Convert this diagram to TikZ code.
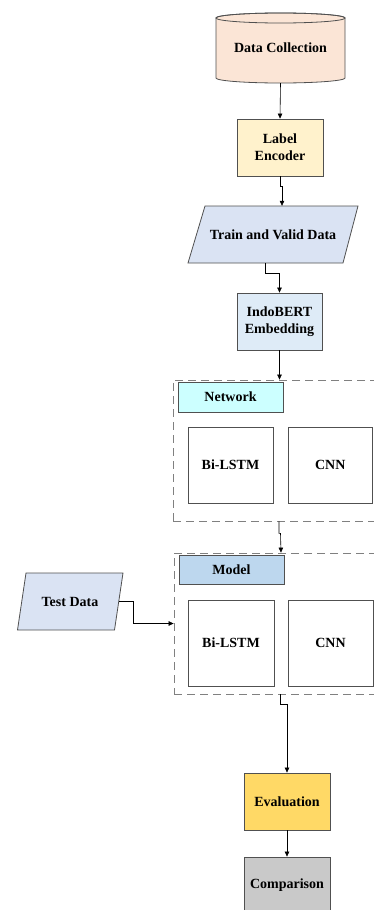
\documentclass[tikz,border=0pt]{standalone}
\usepackage{fontspec}
\setmainfont{Liberation Serif}
\usetikzlibrary{arrows.meta}

\definecolor{peach}{HTML}{FBE5D6}
\definecolor{cream}{HTML}{FFF2CC}
\definecolor{lavender}{HTML}{DAE3F3}
\definecolor{paleblue}{HTML}{DEEBF7}
\definecolor{palecyan}{HTML}{CCFFFF}
\definecolor{skyblue}{HTML}{BDD7EE}
\definecolor{gold}{HTML}{FFD966}
\definecolor{silver}{HTML}{C9C9C9}
\definecolor{edge}{HTML}{505050}
\definecolor{dashgray}{HTML}{808080}

\tikzset{
  box/.style={draw=edge, line width=0.8pt, inner sep=0pt, align=center},
  txt/.style={inner sep=0pt, align=center},
  grp/.style={draw=dashgray, line width=0.8pt, dash pattern=on 8pt off 5pt, inner sep=0pt},
  link/.style={draw=black, line width=0.6pt, -{Triangle[length=5pt,width=4.5pt]}},
  shapeline/.style={draw=edge, line width=0.8pt},
}

\begin{document}
\begin{tikzpicture}[x=1pt, y=-1pt, font=\fontsize{14}{17}\selectfont\bfseries]
\useasboundingbox (0,0) rectangle (374,910);
\clip (0,0) rectangle (374,910);

% data store drawn as a cylinder
\path[shapeline, fill=peach] (216,18) -- (216,78)
  arc[start angle=180, end angle=360, x radius=64.5pt, y radius=5pt]
  -- (345,18)
  arc[start angle=0, end angle=180, x radius=64.5pt, y radius=5pt] -- cycle;
\draw[shapeline] (280.5,18) ellipse [x radius=64.5pt, y radius=5pt];
\node[txt, minimum width=129pt, minimum height=70pt] (dc) at (280.5,48) {Data Collection};

% preprocessing steps
\node[box, fill=cream, minimum width=86pt, minimum height=57pt] (le) at (280,147.5) {Label\\Encoder};

\path[shapeline, fill=lavender] (205,206) -- (358,206) -- (343,263) -- (188,263) -- cycle;
\node[txt, minimum width=150pt, minimum height=57pt] (tvd) at (273,234.5) {Train and Valid Data};

\node[box, fill=paleblue, minimum width=85pt, minimum height=57pt] (ie) at (279.5,321.5) {IndoBERT\\Embedding};

% network group
\node[grp, minimum width=227pt, minimum height=141pt] (g1) at (286.5,450.5) {};
\node[box, fill=palecyan, minimum width=105pt, minimum height=30pt] (nh) at (230.5,397) {Network};
\node[box, minimum width=85pt, minimum height=76pt] (b1) at (230.5,465) {Bi-LSTM};
\node[box, minimum width=84.5pt, minimum height=76pt] (c1) at (330.25,465) {CNN};

% model group
\node[grp, minimum width=226pt, minimum height=141pt] (g2) at (287,623.5) {};
\node[box, fill=skyblue, minimum width=105pt, minimum height=29pt] (mh) at (231.5,569.5) {Model};
\node[box, minimum width=86pt, minimum height=86pt] (b2) at (231,643) {Bi-LSTM};
\node[box, minimum width=85pt, minimum height=86pt] (c2) at (330.5,643) {CNN};

% test data input
\path[shapeline, fill=lavender] (26,573) -- (123,573) -- (114.5,630) -- (17.5,630) -- cycle;
\node[txt, minimum width=97pt, minimum height=57pt] (td) at (70,601.5) {Test Data};

% results
\node[box, fill=gold, minimum width=86pt, minimum height=57pt] (ev) at (287,801.5) {Evaluation};
\node[box, fill=silver, minimum width=86pt, minimum height=57pt] (cmp) at (287,885.5) {Comparison};

% connectors
\draw[link] (dc.south) -- (le.north);
\draw[link] (le.south) -- ++(0,10) -- ++(2,0) -- ([xshift=9pt]tvd.north);
\draw[link] ([xshift=-8pt]tvd.south) -- ++(0,10) -| (ie.north);
\draw[link] (ie.south) -- (ie.south |- g1.north);
\draw[link] ([xshift=-7.5pt]g1.south) -- ++(0,12) -- ++(1.5,0) -- ([xshift=-6pt]g2.north);
\draw[link] (td.east) -- ++(14.5,0) |- (g2.west);
\draw[link] ([xshift=-7pt]g2.south) -- ++(0,10) -| (ev.north);
\draw[link] (ev.south) -- (cmp.north);
\end{tikzpicture}
\end{document}
